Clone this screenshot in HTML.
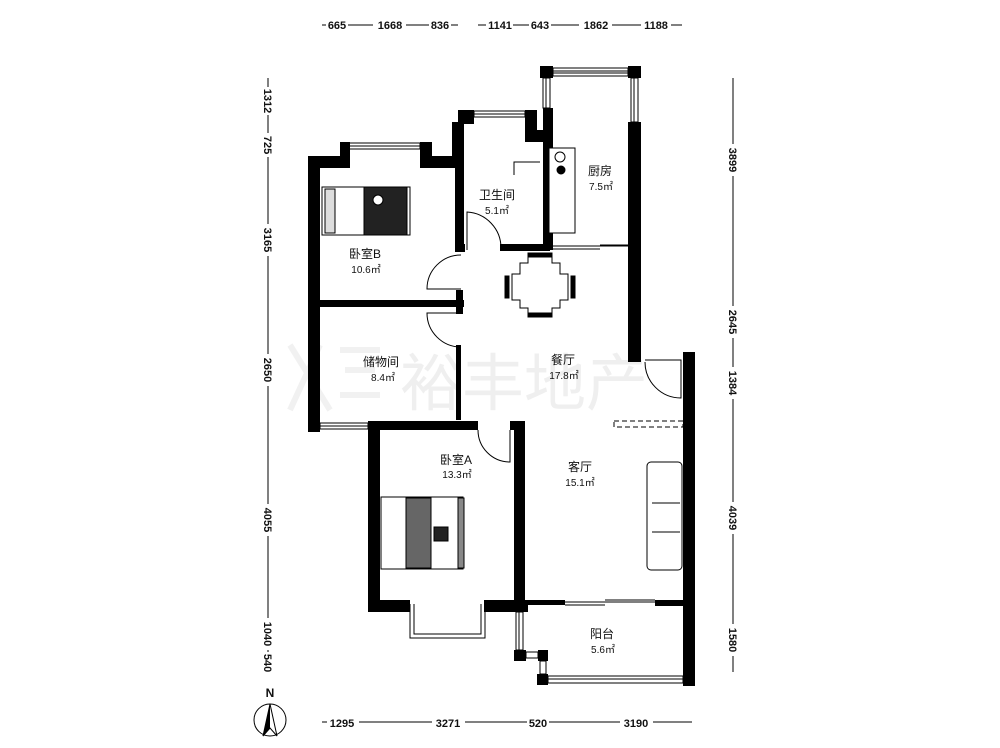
<!DOCTYPE html>
<html><head><meta charset="utf-8"><style>
html,body{margin:0;padding:0;background:#fff;}
svg{display:block;}
text{font-family:"Liberation Sans","Noto Sans CJK SC",sans-serif;fill:#111;}
</style></head><body>
<svg width="1000" height="748" viewBox="0 0 1000 748" xmlns="http://www.w3.org/2000/svg">
<!-- watermark -->
<g fill="none" stroke="#eee" stroke-width="6" opacity="0.8">
<path d="M290 345 L330 410 M320 345 L290 410 M340 350 L380 350 M345 370 L375 370 M340 395 L380 395"/>
</g>
<text x="400" y="405" font-size="62" fill="#f0f0f0" style="fill:#efefef">裕丰地产</text>

<!-- walls -->
<g fill="#000">
<!-- bedroom B -->
<rect x="308" y="156" width="12" height="276"/>
<rect x="308" y="156" width="38" height="12"/>
<rect x="340" y="142" width="10" height="26"/>
<rect x="420" y="142" width="12" height="26"/>
<rect x="420" y="156" width="40" height="12"/>
<rect x="455" y="156" width="9" height="94"/>
<rect x="452" y="122" width="12" height="40"/>
<rect x="458" y="110" width="16" height="14"/>
<!-- bathroom top right jog -->
<rect x="525" y="110" width="12" height="24"/>
<rect x="525" y="130" width="28" height="12"/>
<rect x="543" y="108" width="10" height="142"/>
<rect x="540" y="66" width="13" height="12"/>
<rect x="628" y="66" width="13" height="12"/>
<rect x="628" y="122" width="13" height="240"/>
<!-- horizontal y 245 -->
<rect x="455" y="244" width="10" height="8"/>
<rect x="500" y="244" width="50" height="7"/>
<!-- B/storage -->
<rect x="318" y="300" width="146" height="7"/>
<rect x="456" y="290" width="7" height="24"/>
<rect x="456" y="345" width="5" height="75"/>
<!-- right wall -->
<rect x="683" y="352" width="12" height="334"/>
<!-- bedroom A -->
<rect x="368" y="421" width="110" height="9"/>
<rect x="510" y="421" width="14" height="9"/>
<rect x="368" y="421" width="12" height="190"/>
<rect x="514" y="421" width="11" height="190"/>
<rect x="368" y="600" width="42" height="12"/>
<rect x="484" y="600" width="44" height="12"/>
<rect x="525" y="600" width="40" height="5"/>
<rect x="655" y="600" width="30" height="6"/>
<!-- balcony pillars -->
<rect x="514" y="650" width="12" height="11"/>
<rect x="538" y="650" width="10" height="11"/>
<rect x="537" y="674" width="11" height="11"/>
<rect x="683" y="676" width="12" height="10"/>
</g>
<!-- windows -->
<g fill="none" stroke="#000" stroke-width="1">
<rect x="346" y="143" width="74" height="6"/>
<line x1="346" y1="146" x2="420" y2="146"/>
<rect x="474" y="111" width="51" height="6"/>
<line x1="474" y1="114" x2="525" y2="114"/>
<rect x="553" y="68" width="75" height="8"/>
<line x1="553" y1="71" x2="628" y2="71"/><line x1="553" y1="73" x2="628" y2="73"/>
<rect x="543" y="78" width="7" height="30"/>
<line x1="546" y1="78" x2="546" y2="108"/>
<rect x="631" y="78" width="7" height="44"/>
<line x1="634" y1="78" x2="634" y2="122"/>
<rect x="320" y="423" width="48" height="6"/>
<line x1="320" y1="426" x2="368" y2="426"/>
<path d="M410 604 V638 H485 V604 M414 604 V634 H481 V604"/>
<rect x="516" y="612" width="7" height="38"/>
<line x1="519" y1="612" x2="519" y2="650"/>
<rect x="526" y="652" width="12" height="6"/>
<rect x="540" y="661" width="6" height="13"/>
<rect x="548" y="676" width="135" height="7"/>
<line x1="548" y1="679" x2="683" y2="679"/>
<!-- sliding doors -->
<line x1="550" y1="246" x2="628" y2="246"/><line x1="550" y1="249" x2="600" y2="249"/><line x1="600" y1="245" x2="628" y2="245"/>
<line x1="565" y1="602" x2="655" y2="602"/><line x1="565" y1="605" x2="605" y2="605"/><line x1="605" y1="600" x2="655" y2="600"/>
<!-- dashed -->
<rect x="614" y="421" width="69" height="6" stroke-dasharray="5 3"/>
<!-- doors -->
<path d="M467 250 V212 A36 36 0 0 1 501 248"/>
<path d="M461 255 A34 34 0 0 0 427 289 H461"/>
<path d="M461 347 A34 34 0 0 1 427 313 H461"/>
<path d="M478 430 A32 32 0 0 0 510 462 V430"/>
<path d="M645 362 A36 36 0 0 0 681 398 V360 H645"/>
<!-- bathroom shower -->
<path d="M514 175 V162 H540"/>
</g>
<!-- furniture: bed B -->
<g stroke="#000" fill="#fff">
<rect x="322" y="187" width="88" height="48"/>
<rect x="364" y="187" width="43" height="48" fill="#222"/>
<rect x="325" y="189" width="10" height="44" fill="#ddd"/>
<circle cx="378" cy="200" r="5" fill="#fff"/>
<!-- kitchen counter -->
<rect x="549" y="148" width="26" height="85"/>
<circle cx="560" cy="157" r="5" fill="none"/><circle cx="561" cy="170" r="4" fill="#000"/>
<!-- dining table -->
<path d="M528 255 H552 V263 H560 V274 H568 V300 H560 V308 H552 V316 H528 V308 H520 V300 H512 V274 H520 V263 H528 Z"/>
<rect x="528" y="253" width="24" height="4" fill="#000"/>
<rect x="528" y="313" width="24" height="4" fill="#000"/>
<rect x="505" y="276" width="4" height="22" fill="#000"/>
<rect x="571" y="276" width="4" height="22" fill="#000"/>
<!-- bed A -->
<rect x="381" y="497" width="82" height="72"/>
<rect x="406" y="498" width="25" height="70" fill="#666"/>
<rect x="458" y="498" width="6" height="70" fill="#888"/>
<rect x="434" y="527" width="14" height="14" fill="#222"/>
<!-- sofa -->
<rect x="647" y="462" width="35" height="108" rx="4"/>
<line x1="652" y1="503" x2="680" y2="503"/><line x1="652" y1="532" x2="680" y2="532"/>
</g>
<!-- room labels -->
<g text-anchor="middle" font-size="12">
<text x="497" y="199">卫生间</text><text x="497" y="214" font-size="10">5.1㎡</text>
<text x="600" y="175">厨房</text><text x="601" y="190" font-size="10">7.5㎡</text>
<text x="365" y="258">卧室B</text><text x="366" y="273" font-size="10">10.6㎡</text>
<text x="381" y="366">储物间</text><text x="383" y="381" font-size="10">8.4㎡</text>
<text x="563" y="364">餐厅</text><text x="564" y="379" font-size="10">17.8㎡</text>
<text x="456" y="464">卧室A</text><text x="457" y="478" font-size="10">13.3㎡</text>
<text x="580" y="471">客厅</text><text x="580" y="486" font-size="10">15.1㎡</text>
<text x="602" y="638">阳台</text><text x="603" y="653" font-size="10">5.6㎡</text>
</g>
<!-- dimensions -->
<g stroke="#000" stroke-width="1">
<line x1="322" y1="25" x2="458" y2="25"/>
<line x1="478" y1="25" x2="682" y2="25"/>
<line x1="322" y1="722" x2="692" y2="722"/>
<line x1="268" y1="78" x2="268" y2="672"/>
<line x1="733" y1="78" x2="733" y2="672"/>
</g>
<g font-size="11" text-anchor="middle" font-weight="bold">
<g fill="#fff" stroke="none">
<rect x="326" y="18" width="22" height="14"/><rect x="373" y="18" width="33" height="14"/><rect x="429" y="18" width="22" height="14"/>
<rect x="486" y="18" width="27" height="14"/><rect x="529" y="18" width="22" height="14"/><rect x="579" y="18" width="33" height="14"/><rect x="641" y="18" width="30" height="14"/>
<rect x="327" y="715" width="32" height="14"/><rect x="432" y="715" width="33" height="14"/><rect x="527" y="715" width="22" height="14"/><rect x="620" y="715" width="33" height="14"/>
</g>
<text x="337" y="29">665</text><text x="390" y="29">1668</text><text x="440" y="29">836</text>
<text x="500" y="29">1141</text><text x="540" y="29">643</text><text x="596" y="29">1862</text><text x="656" y="29">1188</text>
<text x="342" y="727">1295</text><text x="448" y="727">3271</text><text x="538" y="727">520</text><text x="636" y="727">3190</text>
<g fill="#fff"><rect x="261" y="87" width="14" height="28"/><rect x="261" y="133" width="14" height="24"/><rect x="261" y="224" width="14" height="32"/><rect x="261" y="354" width="14" height="32"/><rect x="261" y="504" width="14" height="32"/><rect x="261" y="618" width="14" height="32"/><rect x="261" y="652" width="14" height="22"/>
<rect x="726" y="144" width="14" height="32"/><rect x="726" y="306" width="14" height="32"/><rect x="726" y="367" width="14" height="32"/><rect x="726" y="502" width="14" height="32"/><rect x="726" y="624" width="14" height="32"/></g>
<g>
<text transform="translate(264,101) rotate(90)">1312</text>
<text transform="translate(264,145) rotate(90)">725</text>
<text transform="translate(264,240) rotate(90)">3165</text>
<text transform="translate(264,370) rotate(90)">2650</text>
<text transform="translate(264,520) rotate(90)">4055</text>
<text transform="translate(264,634) rotate(90)">1040</text>
<text transform="translate(264,663) rotate(90)">540</text>
<text transform="translate(729,160) rotate(90)">3899</text>
<text transform="translate(729,322) rotate(90)">2645</text>
<text transform="translate(729,383) rotate(90)">1384</text>
<text transform="translate(729,518) rotate(90)">4039</text>
<text transform="translate(729,640) rotate(90)">1580</text>
</g>
</g>
<!-- north -->
<text x="270" y="697" font-size="12" font-weight="bold" text-anchor="middle">N</text>
<circle cx="270" cy="720" r="16" fill="none" stroke="#000"/>
<path d="M270 704 L263 736 L270 728 L277 736 Z" fill="none" stroke="#000"/>
<path d="M270 704 L270 728 L263 736 Z" fill="#000"/>
</svg>
</body></html>
